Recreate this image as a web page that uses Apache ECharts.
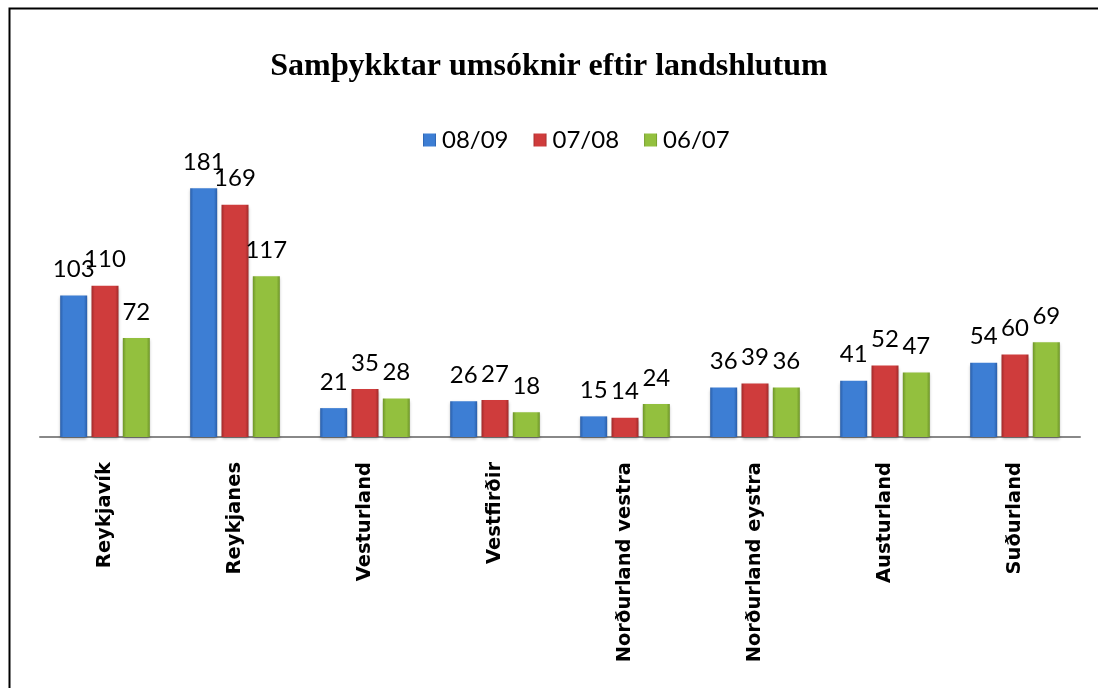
<!DOCTYPE html>
<html>
<head>
<meta charset="utf-8">
<script src="https://cdn.jsdelivr.net/npm/echarts@6/dist/echarts.min.js"></script>
<style>
html,body{margin:0;padding:0;background:#fff;}
#main{width:1098px;height:688px;}
</style>
</head>
<body>
<div id="main"></div>
<script>
var titleText = 'Samþykktar umsóknir eftir landshlutum';
var categories = ['Reykjavík','Reykjanes','Vesturland','Vestfirðir','Norðurland vestra','Norðurland eystra','Austurland','Suðurland'];
var seriesNames = ['08/09','07/08','06/07'];
var s0809 = [103,181,21,26,15,36,41,54];
var s0708 = [110,169,35,27,14,39,52,60];
var s0607 = [72,117,28,18,24,36,47,69];

function grad(edge, mid){
  return new echarts.graphic.LinearGradient(0,0,1,0,[
    {offset:0,color:edge},{offset:0.12,color:mid},{offset:0.5,color:mid},{offset:0.88,color:mid},{offset:1,color:edge}
  ]);
}
var colors = [
  grad('#2a5ea8','#3d7ed4'),
  grad('#a02a2a','#cf3c3c'),
  grad('#6d9428','#93c03e')
];
var legendColors = ['#3a78c9','#c93838','#8cb83a'];
var font = 'Lato, "Open Sans", sans-serif';

function mk(name, data, i){
  return {
    name:name, type:'bar', data:data,
    barWidth:27, barGap:'16%',
    itemStyle:{color:colors[i], shadowColor:'rgba(0,0,0,0.3)', shadowBlur:3, shadowOffsetY:2},
    label:{show:true, position:'top', distance:14, color:'#000', fontSize:24, fontFamily:font}
  };
}

var chart = echarts.init(document.getElementById('main'));
chart.setOption({
  animation:false,
  backgroundColor:'#fff',
  color:legendColors,
  title:{text:titleText, left:'center', top:46,
    textStyle:{fontFamily:'"Liberation Serif","Times New Roman",serif', fontWeight:'bold', fontSize:32, color:'#000'}},
  legend:{top:123, left:418, icon:'rect', itemWidth:13, itemHeight:13, itemGap:25,
    textStyle:{fontFamily:font, fontSize:24, color:'#000', padding:[0,0,0,1]},
    data:seriesNames},
  grid:{left:40, right:18, top:162, bottom:251},
  xAxis:{type:'category', data:categories,
    axisLine:{lineStyle:{color:'#888', width:2}},
    axisTick:{show:false},
    axisLabel:{rotate:90, margin:25, fontSize:19.5, fontWeight:'bold', fontFamily:'"DejaVu Sans", sans-serif', color:'#000', interval:0}},
  yAxis:{type:'value', min:0, max:200, show:false, splitLine:{show:false}},
  graphic:[{type:'rect', left:7, top:6, shape:{x:0,y:0,width:1200,height:800},
    style:{fill:'none', stroke:'#000', lineWidth:2}, silent:true}],
  series:[mk(seriesNames[0], s0809, 0), mk(seriesNames[1], s0708, 1), mk(seriesNames[2], s0607, 2)]
});
</script>
</body>
</html>
